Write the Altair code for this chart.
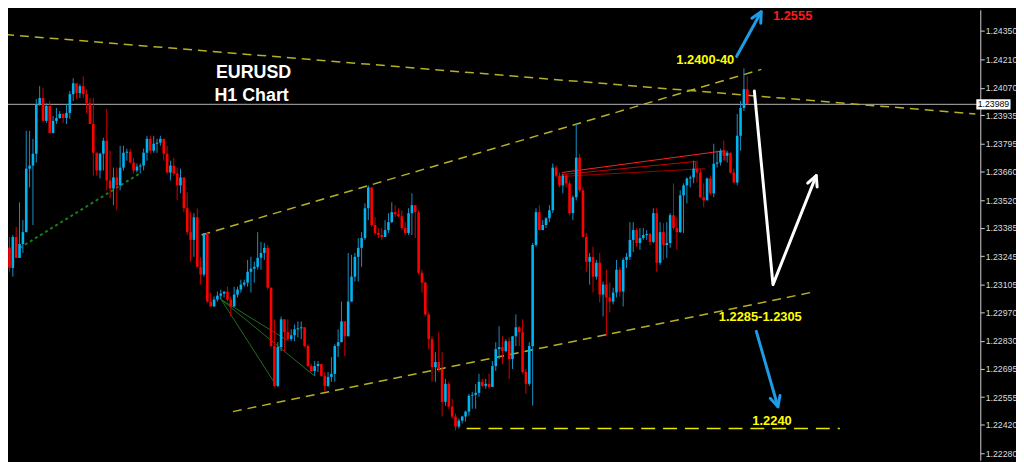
import altair as alt
import pandas as pd

# ---------------- candle data (EURUSD H1), prices ----------------
first_open = 1.23276
close = [
    1.23286, 1.23188, 1.23339, 1.23237, 1.23305, 1.23363, 1.23674, 1.23689, 1.23747, 1.23990,
    1.24020, 1.23908, 1.23981, 1.23849, 1.23908, 1.23922, 1.23942, 1.23922, 1.23947, 1.24039,
    1.24092, 1.24044, 1.24078, 1.24039, 1.23995, 1.23893, 1.23752, 1.23665, 1.23747, 1.23811,
    1.23616, 1.23577, 1.23631, 1.23592, 1.23679, 1.23752, 1.23757, 1.23704, 1.23665, 1.23684,
    1.23689, 1.23752, 1.23820, 1.23762, 1.23796, 1.23801, 1.23820, 1.23747, 1.23655, 1.23689,
    1.23650, 1.23592, 1.23631, 1.23480, 1.23363, 1.23325, 1.23436, 1.23193, 1.23155, 1.23359,
    1.23023, 1.22999, 1.23033, 1.23052, 1.23062, 1.23072, 1.23033, 1.22999, 1.23057, 1.23082,
    1.23106, 1.23116, 1.23169, 1.23184, 1.23193, 1.23237, 1.23261, 1.23286, 1.23091, 1.22805,
    1.22610, 1.22800, 1.22936, 1.22873, 1.22839, 1.22858, 1.22887, 1.22892, 1.22897, 1.22805,
    1.22707, 1.22683, 1.22707, 1.22717, 1.22659, 1.22610, 1.22654, 1.22669, 1.22805, 1.22824,
    1.22926, 1.22853, 1.23023, 1.23145, 1.23242, 1.23286, 1.23334, 1.23480, 1.23582, 1.23398,
    1.23359, 1.23349, 1.23339, 1.23373, 1.23412, 1.23461, 1.23451, 1.23441, 1.23383, 1.23359,
    1.23456, 1.23495, 1.23461, 1.23164, 1.23116, 1.22960, 1.22839, 1.22702, 1.22727, 1.22693,
    1.22532, 1.22620, 1.22508, 1.22460, 1.22411, 1.22440, 1.22460, 1.22484, 1.22562, 1.22566,
    1.22576, 1.22630, 1.22610, 1.22620, 1.22605, 1.22707, 1.22790, 1.22800, 1.22780, 1.22829,
    1.22741, 1.22853, 1.22897, 1.22873, 1.22678, 1.22620, 1.22805, 1.23300, 1.23461, 1.23373,
    1.23398, 1.23431, 1.23470, 1.23679, 1.23640, 1.23592, 1.23640, 1.23602, 1.23456, 1.23534,
    1.23728, 1.23568, 1.23339, 1.23218, 1.23242, 1.23145, 1.23213, 1.23057, 1.23106, 1.23043,
    1.23023, 1.23067, 1.23179, 1.23072, 1.23227, 1.23242, 1.23325, 1.23373, 1.23310, 1.23334,
    1.23349, 1.23354, 1.23315, 1.23456, 1.23213, 1.23363, 1.23300, 1.23310, 1.23446, 1.23383,
    1.23363, 1.23543, 1.23592, 1.23626, 1.23631, 1.23674, 1.23655, 1.23534, 1.23519, 1.23626,
    1.23553, 1.23698, 1.23704, 1.23762, 1.23737, 1.23752, 1.23655, 1.23606, 1.23835, 1.23971,
    1.24063, 1.23990,
]
high = [
    1.23300, 1.23339, 1.23349, 1.23388, 1.23509, 1.23422, 1.23859, 1.23859, 1.23820, 1.24015,
    1.24078, 1.24068, 1.23995, 1.24005, 1.23932, 1.23971, 1.23956, 1.23947, 1.23990, 1.24054,
    1.24117, 1.24092, 1.24088, 1.24126, 1.24063, 1.24020, 1.24020, 1.23752, 1.23752, 1.23825,
    1.23966, 1.23762, 1.23679, 1.23679, 1.23786, 1.23786, 1.23772, 1.23772, 1.23728, 1.23699,
    1.23699, 1.23772, 1.23835, 1.23835, 1.23835, 1.23820, 1.23835, 1.23820, 1.23786, 1.23713,
    1.23728, 1.23679, 1.23674, 1.23626, 1.23558, 1.23461, 1.23456, 1.23480, 1.23242, 1.23359,
    1.23359, 1.23067, 1.23048, 1.23072, 1.23082, 1.23072, 1.23096, 1.23048, 1.23096, 1.23096,
    1.23130, 1.23130, 1.23227, 1.23242, 1.23218, 1.23363, 1.23315, 1.23310, 1.23300, 1.23091,
    1.22936, 1.22824, 1.22950, 1.22911, 1.22936, 1.22887, 1.22911, 1.22926, 1.22926, 1.22873,
    1.22814, 1.22717, 1.22732, 1.22732, 1.22717, 1.22678, 1.22678, 1.22751, 1.22814, 1.22887,
    1.23023, 1.22926, 1.23261, 1.23252, 1.23261, 1.23334, 1.23363, 1.23504, 1.23592, 1.23582,
    1.23436, 1.23383, 1.23383, 1.23422, 1.23456, 1.23509, 1.23495, 1.23480, 1.23470, 1.23412,
    1.23480, 1.23553, 1.23495, 1.23470, 1.23179, 1.23121, 1.22970, 1.22853, 1.22775, 1.22873,
    1.22775, 1.22644, 1.22630, 1.22547, 1.22474, 1.22450, 1.22464, 1.22489, 1.22571, 1.22581,
    1.22620, 1.22669, 1.22644, 1.22644, 1.22669, 1.22732, 1.22824, 1.22902, 1.22853, 1.22839,
    1.22848, 1.22853, 1.22960, 1.22902, 1.22936, 1.22693, 1.22824, 1.23310, 1.23480, 1.23495,
    1.23422, 1.23436, 1.23495, 1.23699, 1.23689, 1.23655, 1.23650, 1.23650, 1.23616, 1.23543,
    1.23893, 1.23747, 1.23582, 1.23359, 1.23261, 1.23291, 1.23227, 1.23261, 1.23121, 1.23179,
    1.23116, 1.23091, 1.23227, 1.23193, 1.23237, 1.23261, 1.23412, 1.23412, 1.23383, 1.23383,
    1.23383, 1.23373, 1.23359, 1.23480, 1.23480, 1.23412, 1.23407, 1.23412, 1.23456, 1.23602,
    1.23432, 1.23568, 1.23602, 1.23631, 1.23640, 1.23713, 1.23713, 1.23674, 1.23602, 1.23631,
    1.23640, 1.23796, 1.23762, 1.23772, 1.23811, 1.23762, 1.23747, 1.23674, 1.23942, 1.24005,
    1.24165, 1.24126,
]
low = [
    1.23261, 1.23169, 1.23145, 1.23237, 1.23266, 1.23261, 1.23363, 1.23582, 1.23398, 1.23704,
    1.23981, 1.23908, 1.23898, 1.23849, 1.23845, 1.23893, 1.23918, 1.23898, 1.23893, 1.23918,
    1.24005, 1.24015, 1.24020, 1.24020, 1.23947, 1.23893, 1.23640, 1.23640, 1.23626, 1.23665,
    1.23568, 1.23529, 1.23495, 1.23470, 1.23568, 1.23665, 1.23713, 1.23699, 1.23650, 1.23655,
    1.23650, 1.23665, 1.23713, 1.23747, 1.23752, 1.23752, 1.23786, 1.23713, 1.23650, 1.23616,
    1.23640, 1.23519, 1.23553, 1.23461, 1.23349, 1.23218, 1.23242, 1.23193, 1.23106, 1.23145,
    1.23018, 1.22999, 1.22999, 1.23023, 1.23033, 1.23043, 1.23023, 1.22950, 1.22999, 1.23043,
    1.23067, 1.23096, 1.23096, 1.23067, 1.23116, 1.23179, 1.23179, 1.23227, 1.23082, 1.22800,
    1.22605, 1.22605, 1.22780, 1.22775, 1.22829, 1.22829, 1.22829, 1.22848, 1.22839, 1.22800,
    1.22702, 1.22678, 1.22659, 1.22678, 1.22654, 1.22581, 1.22605, 1.22630, 1.22630, 1.22751,
    1.22824, 1.22756, 1.22853, 1.23023, 1.23121, 1.23121, 1.23193, 1.23325, 1.23422, 1.23388,
    1.23349, 1.23334, 1.23325, 1.23349, 1.23359, 1.23407, 1.23436, 1.23436, 1.23373, 1.23349,
    1.23349, 1.23349, 1.23334, 1.23155, 1.23067, 1.22950, 1.22790, 1.22630, 1.22630, 1.22678,
    1.22460, 1.22513, 1.22498, 1.22450, 1.22392, 1.22401, 1.22426, 1.22435, 1.22464, 1.22498,
    1.22498, 1.22557, 1.22605, 1.22596, 1.22596, 1.22605, 1.22683, 1.22741, 1.22717, 1.22775,
    1.22644, 1.22693, 1.22805, 1.22805, 1.22669, 1.22571, 1.22610, 1.22513, 1.23291, 1.23373,
    1.23373, 1.23383, 1.23412, 1.23456, 1.23631, 1.23582, 1.23553, 1.23582, 1.23446, 1.23422,
    1.23519, 1.23558, 1.23339, 1.23169, 1.23106, 1.23067, 1.23130, 1.23018, 1.22950, 1.22853,
    1.22970, 1.23009, 1.23043, 1.23048, 1.22999, 1.23188, 1.23227, 1.23266, 1.23291, 1.23276,
    1.23325, 1.23325, 1.23300, 1.23310, 1.23169, 1.23203, 1.23227, 1.23237, 1.23286, 1.23373,
    1.23276, 1.23359, 1.23359, 1.23504, 1.23582, 1.23602, 1.23606, 1.23529, 1.23485, 1.23519,
    1.23543, 1.23534, 1.23679, 1.23689, 1.23713, 1.23704, 1.23650, 1.23602, 1.23592, 1.23762,
    1.23956, 1.23990,
]

# price axis
tick_values = [1.24350, 1.24210, 1.24070, 1.23935, 1.23795, 1.23660, 1.23520, 1.23385,
               1.23245, 1.23105, 1.22970, 1.22830, 1.22695, 1.22555, 1.22420, 1.22280]
current_price = 1.23989
current_label = "1.23989"
current_box_x = [289.3, 299.5]
current_box_p = [1.24014, 1.23964]

# ---------------- drawn objects (bar index, price) ----------------
yellow_lines = {
    "resistance": ([-0.3, 289.0], [1.24331, 1.23942]),
    "channel_top": ([58.26, 225.2], [1.23349, 1.24160]),
    "channel_bottom": ([67.63, 241.3], [1.22484, 1.23072]),
}
target_line = ([137.32, 248.6], [1.22401, 1.22401])
green_dotted = ([4.09, 39.8], [1.23286, 1.23650])
green_fan_start = (64.12, 1.23033)
green_fan_ends = [(80.22, 1.22620), (83.74, 1.22834), (91.93, 1.22659)]
red_lines = {
    "r1": ([165.72, 214.33], [1.23655, 1.23762]),
    "r2": ([165.72, 205.55], [1.23645, 1.23709]),
    "r3": ([165.72, 208.47], [1.23636, 1.23674]),
    "r4": ([205.55, 205.55], [1.23709, 1.23665]),
    "r5": ([214.33, 214.33], [1.23762, 1.23714]),
}
arrows = {
    "blue_up": ([217.84, 225.16], [1.24224, 1.24442]),
    "white": ([223.11, 228.67, 241.56], [1.24054, 1.23106, 1.23640]),
    "blue_down": ([223.7, 230.14], [1.22877, 1.22508]),
}
arrow_angles = {"blue_up": 29, "white": 22, "blue_down": 164}

labels_text = ["EURUSD", "H1 Chart", "1.2400-40", "1.2555", "1.2285-1.2305", "1.2240"]
labels_x = [73.78, 73.2, 208.47, 234.53, 224.87, 228.38]
labels_p = [1.24141, 1.24029, 1.24204, 1.24420, 1.22946, 1.22440]

# ---------------- styles ----------------
BULL_BODY, BEAR_BODY = "#00b4f2", "#ff0000"
BULL_WICK, BEAR_WICK = "#1a8ec2", "#d00000"
red_colors = {"r1": "#ff2020", "r2": "#c80000", "r3": "#a00000", "r4": "#c80000", "r5": "#ff2020"}
arrow_colors = {"blue_up": "#1f9be6", "white": "#ffffff", "blue_down": "#1f9be6"}
label_colors = ["#ffffff", "#ffffff", "#ffff00", "#ff1a1a", "#ffff00", "#ffff00"]
label_sizes = [18, 18, 13, 13, 13, 13]

X_DOMAIN = [2.04, 289.0]
Y_DOMAIN = [1.22246, 1.24452]

# ---------------- frames ----------------
n = len(close)
opens = [first_open] + close[:-1]
df = pd.DataFrame({"i": list(range(n)), "o": opens, "c": close, "h": high, "l": low})
df["hi"] = df[["h", "o", "c"]].max(axis=1)
df["lo"] = df[["l", "o", "c"]].min(axis=1)
up = df["c"] >= df["o"]
df["bc"] = [BULL_BODY if u else BEAR_BODY for u in up]
df["wc"] = [BULL_WICK if u else BEAR_WICK for u in up]


def lines_frame(d, colors=None):
    rows = []
    for name, (xs_, ps_) in d.items():
        for k, (xv, pv) in enumerate(zip(xs_, ps_)):
            rows.append({"name": name, "k": k, "x": xv, "p": pv,
                         "col": (colors or {}).get(name, "#ffffff")})
    return pd.DataFrame(rows)


yellow_df = lines_frame(yellow_lines)
target_df = lines_frame({"t": target_line})
dotted_df = lines_frame({"g": green_dotted})
fan_df = lines_frame({f"f{j}": ([green_fan_start[0], e[0]], [green_fan_start[1], e[1]])
                      for j, e in enumerate(green_fan_ends)})
red_df = lines_frame(red_lines, red_colors)
arrow_df = lines_frame(arrows, arrow_colors)
head_df = pd.DataFrame([{"x": xs_[-1], "p": ps_[-1], "ang": arrow_angles[nm],
                         "col": arrow_colors[nm]} for nm, (xs_, ps_) in arrows.items()])
label_df = pd.DataFrame({"t": labels_text, "x": labels_x, "p": labels_p,
                         "col": label_colors, "fs": label_sizes})
cur_df = pd.DataFrame({"p": [current_price]})
box_df = pd.DataFrame({"x": [current_box_x[0]], "x2": [current_box_x[1]],
                       "p": [current_box_p[0]], "p2": [current_box_p[1]],
                       "xm": [sum(current_box_x) / 2], "pm": [current_price],
                       "t": [current_label]})

# ---------------- encodings ----------------
xs = alt.Scale(domain=X_DOMAIN, nice=False, zero=False)
ys = alt.Scale(domain=Y_DOMAIN, nice=False, zero=False)
yaxis = alt.Axis(orient="right", values=tick_values, format=".5f", title=None, grid=False,
                 labelColor="#dcdcdc", labelFont="Liberation Sans", labelFontSize=8.8,
                 tickColor="#cfcfcf", tickSize=4, domainColor="#cfcfcf", labelPadding=1,
                 labelFlush=False, labelOverlap=False)


def X(f):
    return alt.X(f, type="quantitative", scale=xs, axis=None)


def Y(f):
    return alt.Y(f, type="quantitative", scale=ys, axis=yaxis)


cur_line = alt.Chart(cur_df).mark_rule(color="#b4b4b4", strokeWidth=1).encode(y=Y("p"))

yellow = alt.Chart(yellow_df).mark_line(color="#b5b024", strokeWidth=1.5, strokeDash=[9, 6]).encode(
    x=X("x"), y=Y("p"), detail="name:N", order="k:Q")
target = alt.Chart(target_df).mark_line(color="#e8e600", strokeWidth=1.5, strokeDash=[14, 8]).encode(
    x=X("x"), y=Y("p"), detail="name:N", order="k:Q")
dotted = alt.Chart(dotted_df).mark_line(color="#1a7d1a", strokeWidth=2, strokeDash=[3, 3]).encode(
    x=X("x"), y=Y("p"), detail="name:N", order="k:Q")
fan = alt.Chart(fan_df).mark_line(color="#1f6e1f", strokeWidth=1).encode(
    x=X("x"), y=Y("p"), detail="name:N", order="k:Q")
redl = alt.Chart(red_df).mark_line(strokeWidth=1).encode(
    x=X("x"), y=Y("p"), detail="name:N", order="k:Q", color=alt.Color("col:N", scale=None))

wicks = alt.Chart(df).mark_rule(strokeWidth=1).encode(
    x=X("i"), y=Y("lo"), y2="hi", color=alt.Color("wc:N", scale=None))
bodies = alt.Chart(df).mark_bar(size=2.6).encode(
    x=X("i"), y=Y("o"), y2="c", color=alt.Color("bc:N", scale=None))

arrow_lines = alt.Chart(arrow_df).mark_line(strokeWidth=3, strokeCap="round", strokeJoin="round").encode(
    x=X("x"), y=Y("p"), detail="name:N", order="k:Q", color=alt.Color("col:N", scale=None))
heads = alt.Chart(head_df).mark_point(shape="M-0.5,1L0,0L0.5,1", filled=False, size=420, strokeWidth=3,
                                      strokeCap="round", strokeJoin="round", opacity=1).encode(
    x=X("x"), y=Y("p"), angle=alt.Angle("ang:Q", scale=None), color=alt.Color("col:N", scale=None))

texts = alt.Chart(label_df).mark_text(font="Liberation Sans", fontWeight="bold", align="center",
                                      baseline="middle").encode(
    x=X("x"), y=Y("p"), text="t:N", color=alt.Color("col:N", scale=None), size=alt.Size("fs:Q", scale=None))

box = alt.Chart(box_df).mark_rect(color="#ffffff").encode(x=X("x"), x2="x2", y=Y("p"), y2="p2")
box_text = alt.Chart(box_df).mark_text(font="Liberation Sans", fontSize=8.8, color="#000000",
                                       align="center", baseline="middle").encode(
    x=X("xm"), y=Y("pm"), text="t:N")

chart = alt.layer(
    cur_line, yellow, target, dotted, fan, redl, wicks, bodies, arrow_lines, heads, texts, box, box_text
).properties(
    width=980, height=454, background="#000000",
    padding={"left": 0, "top": 0, "right": 36, "bottom": 0},
    autosize=alt.AutoSizeParams(type="none"),
).configure_view(stroke=None)

chart.save("out.html", embed_options={"renderer": "svg", "actions": False})
